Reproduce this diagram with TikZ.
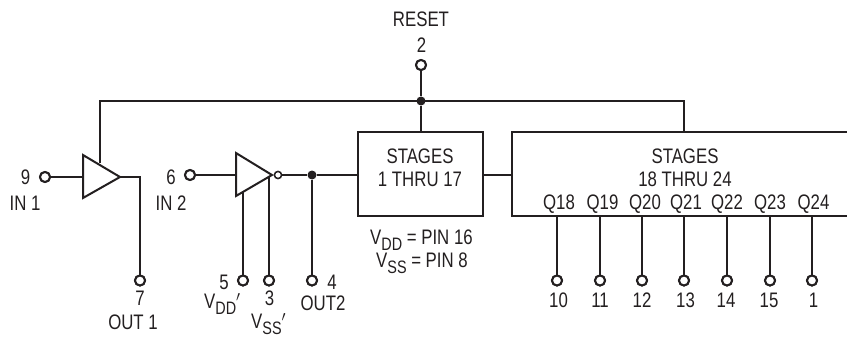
\documentclass[tikz,border=0pt]{standalone}
\usepackage{fontspec}
\setmainfont[FakeStretch=0.8]{Liberation Sans}
\newcommand{\subtxt}[1]{\raisebox{-0.3em}{\fontsize{18}{18}\selectfont #1}}
\definecolor{ink}{HTML}{231F20}
\tikzset{
  wire/.style={draw=ink,line width=2pt},
  pin/.style={circle,draw=ink,fill=white,line width=2pt,minimum size=10pt,inner sep=0pt},
  bubble/.style={circle,draw=ink,fill=white,line width=1.4pt,minimum size=7pt,inner sep=0pt},
  dot/.style={circle,fill=ink,minimum size=9pt,inner sep=0pt},
  blockbox/.style={draw=ink,line width=2pt,inner sep=0pt},
  lab/.style={text=ink,font=\fontsize{21}{23}\selectfont,inner sep=0pt,align=center},
}
\begin{document}
\begin{tikzpicture}[x=1pt,y=-1pt]
\useasboundingbox (0,0) rectangle (847,337);
% blocks
\node[blockbox,minimum width=125pt,minimum height=84pt] (b1) at (420.5,174) {};
\node[blockbox,minimum width=345pt,minimum height=84pt] (b2) at (684.5,174) {};
% named points
\coordinate (fb) at (100,163);
\coordinate (busL) at (100,101);
\coordinate (busR) at (684,101);
\coordinate (b2top) at (684,132);
\coordinate (b1top) at (421,132);
\coordinate (t1a) at (83,155); \coordinate (t1b) at (83,198); \coordinate (t1c) at (120,177);
\coordinate (t1in) at (83,177);
\coordinate (t2a) at (236,153); \coordinate (t2b) at (236,196); \coordinate (t2c) at (272,175);
\coordinate (t2in) at (236,175);
\coordinate (vdd) at (243,192);
\coordinate (vss) at (269,177);
\coordinate (out1) at (140,177);
% pins
\node[pin] (p9) at (45,177) {};
\node[pin] (p7) at (140,280.5) {};
\node[pin] (p6) at (190,175) {};
\node[pin] (p5) at (243,280.5) {};
\node[pin] (p3) at (269,280.5) {};
\node[pin] (p4) at (312,280.5) {};
\node[pin] (p2) at (421,65) {};
\node[pin] (p10) at (557,280.5) {};
\node[pin] (p11) at (600,280.5) {};
\node[pin] (p12) at (642,280.5) {};
\node[pin] (p13) at (684,280.5) {};
\node[pin] (p14) at (727,280.5) {};
\node[pin] (p15) at (770,280.5) {};
\node[pin] (p1) at (812,280.5) {};
\coordinate (q18) at (557,216); \coordinate (q19) at (600,216); \coordinate (q20) at (642,216);
\coordinate (q21) at (684,216); \coordinate (q22) at (727,216); \coordinate (q23) at (770,216); \coordinate (q24) at (812,216);
\node[dot] (j1) at (421,101) {};
\node[dot] (j2) at (312,175) {};
\node[bubble] (inv) at (278,175) {};
% connectors
\draw[wire] (fb) -- (busL) -- (busR) -- (b2top);
\draw[wire] (p2) -- (j1) -- (b1top);
\draw[wire] (p9) -- (t1in);
\draw[wire] (t1c) -- (out1) -- (p7);
\draw[wire] (p6) -- (t2in);
\draw[wire] (vdd) -- (p5);
\draw[wire] (vss) -- (p3);
\draw[wire] (inv) -- (j2) -- (b1.west |- j2);
\draw[wire] (j2) -- (p4);
\draw[wire] (b1.east |- j2) -- (b2.west |- j2);
\foreach \q/\p in {q18/p10,q19/p11,q20/p12,q21/p13,q22/p14,q23/p15,q24/p1}
  \draw[wire] (\q) -- (\p);
\draw[wire,line join=miter,fill=white] (t1a) -- (t1c) -- (t1b) -- cycle;
\draw[wire,line join=miter,fill=white] (t2a) -- (t2c) -- (t2b) -- cycle;
% pins/bubble on top
\node[bubble] at (inv) {};
\node[pin] at (p9) {}; \node[pin] at (p7) {}; \node[pin] at (p6) {}; \node[pin] at (p5) {}; \node[pin] at (p3) {}; \node[pin] at (p4) {}; \node[pin] at (p2) {};
\foreach \p in {p10,p11,p12,p13,p14,p15,p1} \node[pin] at (\p) {};
% labels
\node[lab] (lreset) at (421,19) {RESET};
\node[lab] (l2) at (421.5,45.5) {2};
\node[lab] (l9) at (25.5,177) {9};
\node[lab] (lin1) at (25,203.5) {IN 1};
\node[lab] (l6) at (171,177) {6};
\node[lab] (lin2) at (171,203.5) {IN 2};
\node[lab] (l7) at (140,298.5) {7};
\node[lab] (lout1) at (133,322) {OUT 1};
\node[lab] (l5) at (224,282) {5};
\node[lab,anchor=west] (lvdd) at (204,304) {V\subtxt{DD}$'$};
\node[lab] (l3) at (269.5,298.5) {3};
\node[lab,anchor=west] (lvss) at (251,324) {V\subtxt{SS}$'$};
\node[lab] (l4) at (332,282) {4};
\node[lab] (lout2) at (323,303) {OUT2};
\node[lab] (ls1) at (420,156) {STAGES};
\node[lab] (ls1b) at (420,179.5) {1 THRU 17};
\node[lab] (ls2) at (685,156) {STAGES};
\node[lab] (ls2b) at (685,179.5) {18 THRU 24};
\node[lab] (lq18) at (559,204) {Q18};
\node[lab] (lq19) at (602.5,204) {Q19};
\node[lab] (lq20) at (645,204) {Q20};
\node[lab] (lq21) at (686,204) {Q21};
\node[lab] (lq22) at (727,204) {Q22};
\node[lab] (lq23) at (770,204) {Q23};
\node[lab] (lq24) at (813.5,204) {Q24};
\node[lab,anchor=west] (lpv1) at (370,240) {V\subtxt{DD} = PIN 16};
\node[lab,anchor=west] (lpv2) at (376,263) {V\subtxt{SS} = PIN 8};
\node[lab] (n10) at (558.5,300) {10};
\node[lab] (n11) at (600,300) {11};
\node[lab] (n12) at (642,300) {12};
\node[lab] (n13) at (685.5,300) {13};
\node[lab] (n14) at (726,300) {14};
\node[lab] (n15) at (769,300) {15};
\node[lab] (n1) at (813.5,300) {1};
\end{tikzpicture}
\end{document}
